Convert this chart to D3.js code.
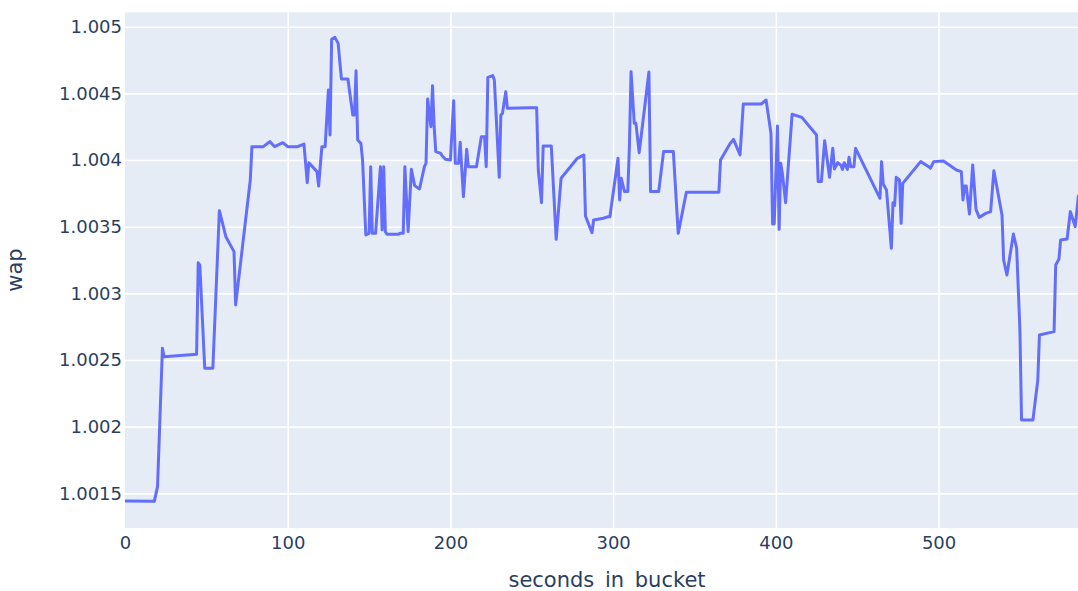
<!DOCTYPE html>
<html>
<head>
<meta charset="utf-8">
<script src="https://cdn.jsdelivr.net/npm/d3@7"></script>
<style>
  html, body { margin: 0; padding: 0; background: #fff; }
  svg { display: block; }
  text { font-family: "DejaVu Sans", Verdana, sans-serif; fill: #2a3f5f; }
</style>
</head>
<body>
<svg id="chart" width="1078" height="591"></svg>
<script>
const seconds = [0,18,20,23,24,44,45,46,49,54,58,62,67,68,77,78,85,89,92,97,
  100,106,110,112,113,118,119,121,123,125,126,127,129,131,133,137,140,141,142,143,
  145,146,148,150,151,152,154,157,158,159,160,161,168,169,171,172,174,176,178,181,
  184,185,186,188,189,190,191,194,195,197,200,202,203,205,206,208,210,211,216,219,
  221,222,223,226,227,230,231,232,234,235,249,253,254,256,257,262,265,268,278,282,
  283,287,288,294,297,298,303,304,305,307,309,310,311,313,314,316,322,323,328,331,
  337,340,345,365,366,372,374,378,380,391,394,397,398,399,401,402,403,404,406,410,
  416,425,426,428,430,433,435,436,438,440,441,442,444,445,446,448,449,464,465,466,
  468,471,472,473,474,476,477,478,489,494,495,497,503,511,514,515,516,517,519,521,
  523,525,529,532,534,539,540,542,546,548,550,551,558,561,562,571,572,574,575,579,
  581,584,586];

const wap = [1.001443,1.00144,1.00155,1.002588,1.002525,1.002543,1.00323,1.00321,1.002438,1.002438,1.00362,1.003425,1.003313,1.002913,1.00385,1.0041,1.0041,1.004138,1.0041,1.00413,
  1.0041,1.0041,1.00412,1.00383,1.00398,1.003913,1.003805,1.0041,1.0041,1.004525,1.004188,1.004905,1.00492,1.004875,1.004608,1.004608,1.004338,1.004338,1.00467,1.00415,
  1.004125,1.004,1.003438,1.00345,1.00395,1.00345,1.00345,1.00395,1.003475,1.00395,1.003463,1.003443,1.003443,1.00345,1.00345,1.00395,1.003463,1.00393,1.003808,1.003783,
  1.00395,1.003975,1.004458,1.00425,1.004558,1.00425,1.004063,1.00405,1.00403,1.004005,1.004,1.004445,1.003975,1.003975,1.004133,1.003725,1.00408,1.00395,1.00395,1.004175,
  1.004175,1.00395,1.00462,1.004633,1.0046,1.00387,1.004338,1.00435,1.004513,1.004388,1.004393,1.004393,1.003925,1.00368,1.004105,1.004105,1.003405,1.003863,1.004013,1.004038,
  1.00358,1.003455,1.00355,1.003563,1.003575,1.003575,1.004013,1.0037,1.003863,1.003763,1.003763,1.0041,1.004663,1.004275,1.004275,1.004055,1.00466,1.003763,1.003763,1.004063,
  1.004063,1.00345,1.003758,1.003758,1.004,1.004125,1.004155,1.004038,1.00442,1.00442,1.00445,1.0042,1.00352,1.00352,1.004255,1.00348,1.003975,1.0039,1.00368,1.004343,
  1.00432,1.004188,1.003838,1.003838,1.004145,1.00387,1.004088,1.003933,1.00398,1.00396,1.00393,1.00398,1.00393,1.00402,1.00395,1.00395,1.004088,1.003713,1.003988,1.00382,
  1.003775,1.003338,1.00368,1.00366,1.00387,1.00385,1.003525,1.003825,1.003988,1.00395,1.003938,1.003988,1.003993,1.003925,1.003913,1.0037,1.003805,1.003805,1.003595,1.003963,
  1.00363,1.00357,1.0036,1.003613,1.00392,1.003588,1.00325,1.003138,1.003445,1.003338,1.002725,1.00205,1.00205,1.00235,1.002688,1.002713,1.003213,1.003258,1.0034,1.003408,
  1.003613,1.0035,1.003738];

const xTicks = [0, 100, 200, 300, 400, 500];
const yTicks = [1.0015, 1.002, 1.0025, 1.003, 1.0035, 1.004, 1.0045, 1.005];
const yTickLabels = ["1.0015", "1.002", "1.0025", "1.003", "1.0035", "1.004", "1.0045", "1.005"];
const xTitle = "seconds in bucket";
const yTitle = "wap";

const data = seconds.map((s, i) => ({ s: s, v: wap[i] }));

const svg = d3.select("#chart");
const plot = { left: 125, top: 12.3, right: 1078, bottom: 528 };
const FONT = "'DejaVu Sans', Verdana, sans-serif";

const x = d3.scaleLinear().domain([0, 585.7]).range([plot.left, plot.right]);
const y = d3.scaleLinear().domain([1.00124, 1.005108]).range([plot.bottom, plot.top]);

svg.append("rect")
  .attr("x", plot.left).attr("y", plot.top)
  .attr("width", plot.right - plot.left).attr("height", plot.bottom - plot.top)
  .attr("fill", "#E5ECF6");

svg.append("clipPath").attr("id", "clip")
  .append("rect")
  .attr("x", plot.left).attr("y", plot.top)
  .attr("width", plot.right - plot.left).attr("height", plot.bottom - plot.top);

// grid lines + x tick labels
const xAxisG = svg.append("g")
  .attr("transform", `translate(0,${plot.bottom})`)
  .call(d3.axisBottom(x).tickValues(xTicks).tickSize(-(plot.bottom - plot.top)).tickFormat(d3.format("d")).tickPadding(8));
xAxisG.select(".domain").remove();
xAxisG.selectAll(".tick line").attr("stroke", "#fff").attr("stroke-width", 1.6)
  .attr("opacity", d => d === 0 ? 0 : 1);
xAxisG.selectAll(".tick text").attr("font-size", "18px").attr("fill", "#2a3f5f")
  .attr("font-family", FONT).attr("dy", "0.74em");

// grid lines + y tick labels
const yAxisG = svg.append("g")
  .attr("transform", `translate(${plot.left},0)`)
  .call(d3.axisLeft(y).tickValues(yTicks).tickSize(-(plot.right - plot.left))
    .tickFormat((d, i) => yTickLabels[i]).tickPadding(3));
yAxisG.select(".domain").remove();
yAxisG.selectAll(".tick line").attr("stroke", "#fff").attr("stroke-width", 1.6);
yAxisG.selectAll(".tick text").attr("font-size", "18px").attr("fill", "#2a3f5f")
  .attr("font-family", FONT);

// line
const line = d3.line().x(d => x(d.s)).y(d => y(d.v));
svg.append("path")
  .datum(data)
  .attr("clip-path", "url(#clip)")
  .attr("fill", "none")
  .attr("stroke", "#636EFA")
  .attr("stroke-width", 3)
  .attr("stroke-linejoin", "round")
  .attr("d", line);

// titles
svg.append("text")
  .attr("x", 607).attr("y", 587)
  .attr("text-anchor", "middle")
  .attr("font-size", "21px")
  .attr("word-spacing", "4px")
  .text(xTitle);

svg.append("text")
  .attr("transform", `translate(22,270) rotate(-90)`)
  .attr("text-anchor", "middle")
  .attr("font-size", "21px")
  .text(yTitle);
</script>
</body>
</html>
